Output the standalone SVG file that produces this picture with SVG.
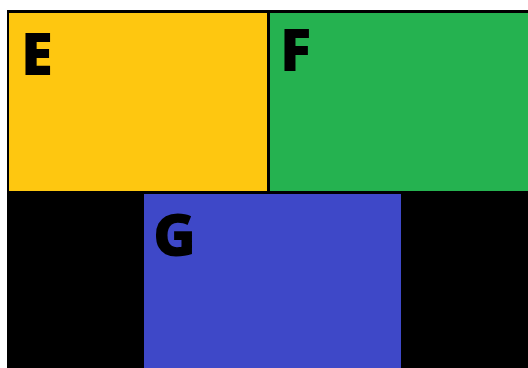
<svg xmlns="http://www.w3.org/2000/svg" width="528" height="368" viewBox="0 0 528 368">
<style>
.lbl{font-family:"Open Sans","Noto Sans","DejaVu Sans",sans-serif;font-weight:800;font-size:58px;fill:#000}
</style>
<rect x="0" y="0" width="528" height="368" fill="#fff"/>
<rect x="7" y="10" width="521" height="358" fill="#000"/>
<g id="E">
<rect x="9" y="13" width="258" height="178" fill="#fec710"/>
<text class="lbl" x="21" y="75">E</text>
</g>
<g id="F">
<rect x="270" y="13" width="258" height="178" fill="#25b250"/>
<text class="lbl" x="280" y="71">F</text>
</g>
<g id="G">
<rect x="144" y="194" width="257" height="174" fill="#3e48c8"/>
<text class="lbl" x="153" y="256">G</text>
</g>
<g id="connectors"/>
</svg>
